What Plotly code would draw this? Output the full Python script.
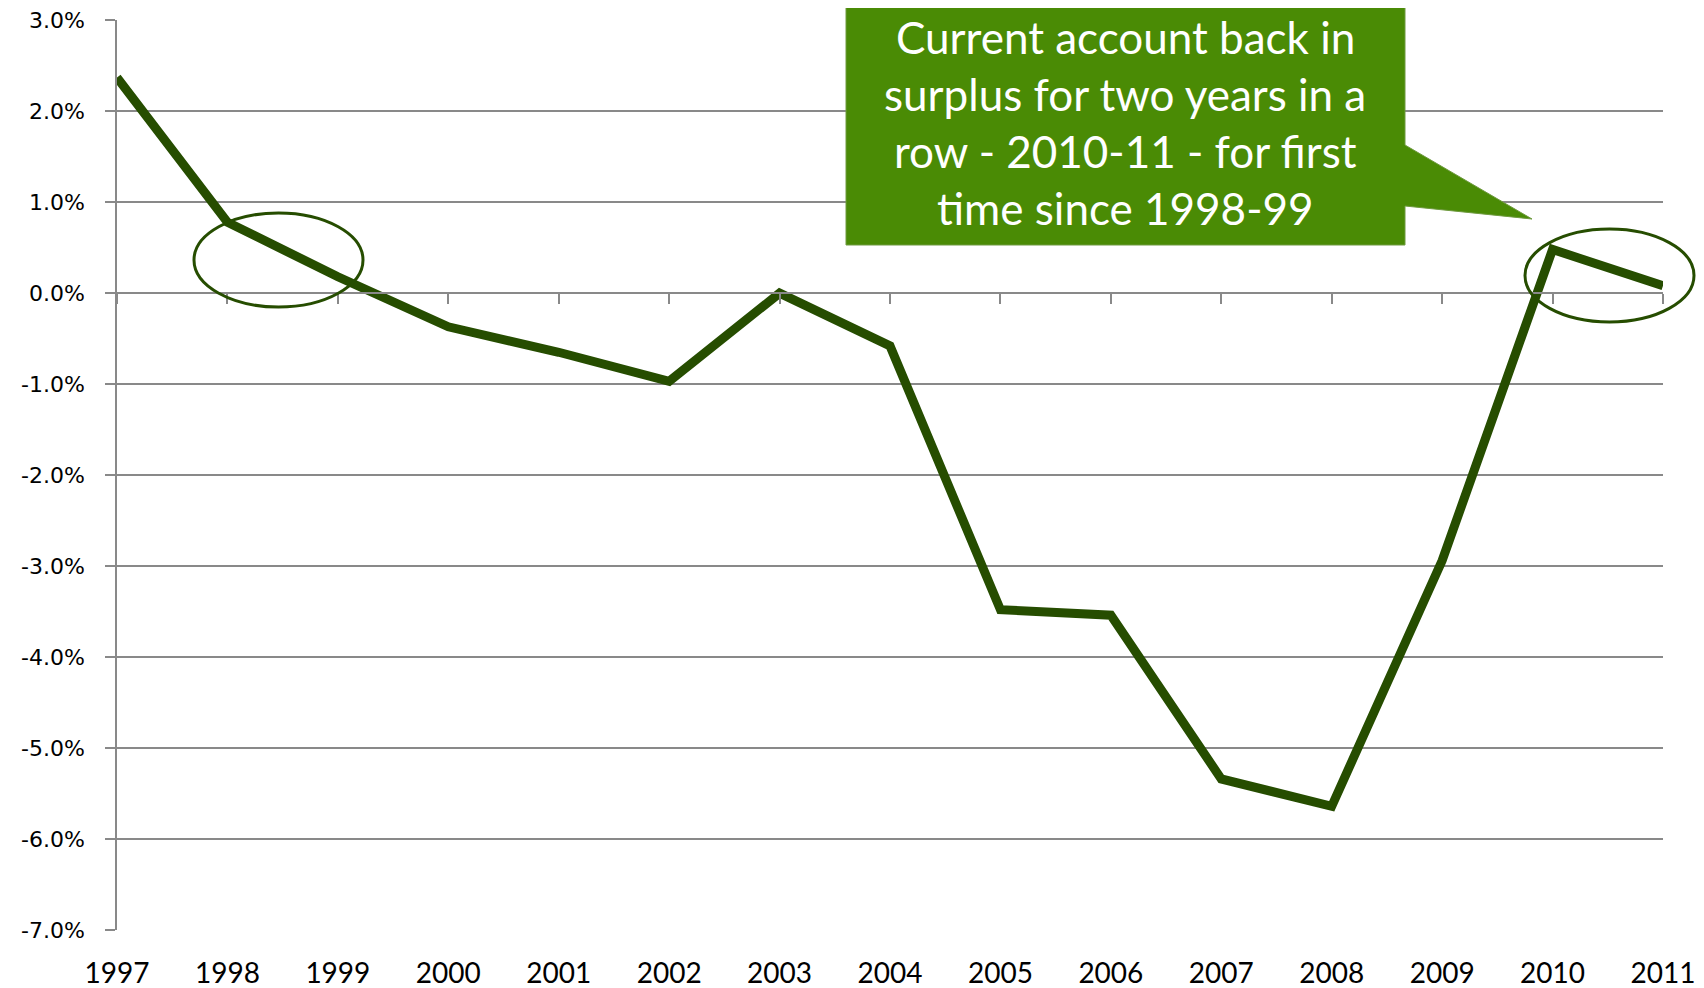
import plotly.graph_objects as go

# ---- data ----
years = [1997, 1998, 1999, 2000, 2001, 2002, 2003, 2004, 2005, 2006, 2007, 2008, 2009, 2010, 2011]
current_account_pct = [2.37, 0.78, 0.18, -0.37, -0.65, -0.97, 0.0, -0.58, -3.48, -3.54, -5.34, -5.64, -2.94, 0.48, 0.08]
y_tick_values = [3, 2, 1, 0, -1, -2, -3, -4, -5, -6, -7]
y_tick_labels = ["3.0%", "2.0%", "1.0%", "0.0%", "-1.0%", "-2.0%", "-3.0%", "-4.0%", "-5.0%", "-6.0%", "-7.0%"]
x_tick_labels = [str(y) for y in years]
callout_lines = ["Current account back in", "surplus for two years in a", "row - 2010-11 - for first", "time since 1998-99"]

Y_MIN, Y_MAX = -7, 3
GRID = "#898989"
LINE_GREEN = "#264d00"
BOX_GREEN = "#4a8b05"

W, H = 1704, 988
PAGE_OFF = 8  # default body margin of the html page
# plot area wanted in page pixels
PL, PR, PT, PB = 117, 1663, 20, 930
PW, PH = PR - PL, PB - PT
ML, MR, MT, MB = PL - PAGE_OFF, W - (PR - PAGE_OFF), PT - PAGE_OFF, H - (PB - PAGE_OFF)


def px_x(px):
    return (px - PL) / PW


def px_y(py):
    return (PB - py) / PH


fig = go.Figure()
fig.add_trace(go.Scatter(
    x=years, y=current_account_pct, mode="lines",
    line=dict(color=LINE_GREEN, width=9),
    showlegend=False, hoverinfo="skip",
))
# ghost trace so that the bottom label axis is drawn
fig.add_trace(go.Scatter(
    x=years, y=current_account_pct, mode="lines", xaxis="x2", yaxis="y",
    line=dict(color="rgba(0,0,0,0)", width=0), opacity=0,
    showlegend=False, hoverinfo="skip",
))

zero_pos = (0 - Y_MIN) / (Y_MAX - Y_MIN)

fig.update_layout(
    width=W, height=H,
    margin=dict(l=ML, r=MR, t=MT, b=MB, pad=0, autoexpand=False),
    paper_bgcolor="white", plot_bgcolor="white",
    xaxis=dict(
        range=[years[0], years[-1]], tickvals=years, showticklabels=False,
        anchor="free", position=zero_pos, automargin=False,
        showline=True, linecolor=GRID, linewidth=1.5,
        ticks="outside", ticklen=10, tickwidth=1.5, tickcolor=GRID,
        showgrid=False, zeroline=False,
    ),
    xaxis2=dict(
        range=[years[0], years[-1]], overlaying="x", anchor="y", side="bottom",
        tickvals=years, ticktext=x_tick_labels, automargin=False,
        tickfont=dict(family="Lato", size=28, color="#000000"),
        ticklabelstandoff=24, ticklabeloverflow="allow",
        showline=False, ticks="", showgrid=False, zeroline=False,
    ),
    yaxis=dict(
        range=[Y_MIN, Y_MAX + 0.002], tickvals=y_tick_values, ticktext=y_tick_labels,
        tickfont=dict(family="DejaVu Sans", size=22, color="#000000"),
        automargin=False, ticklabeloverflow="allow",
        showline=True, linecolor=GRID, linewidth=1.5,
        ticks="outside", ticklen=10, tickwidth=1.5, tickcolor=GRID,
        ticklabelstandoff=16,
        showgrid=True, gridcolor=GRID, gridwidth=1.5, zeroline=False,
    ),
)

# callout box with pointer
box_l, box_r, box_t, box_b = 846, 1405, 3, 245
tri_t, tri_b, tip_x, tip_y = 145, 206, 1532, 219
path = (
    f"M {px_x(box_l)},{px_y(box_t)} L {px_x(box_r)},{px_y(box_t)} "
    f"L {px_x(box_r)},{px_y(tri_t)} L {px_x(tip_x)},{px_y(tip_y)} "
    f"L {px_x(box_r)},{px_y(tri_b)} L {px_x(box_r)},{px_y(box_b)} "
    f"L {px_x(box_l)},{px_y(box_b)} Z"
)
fig.add_shape(type="path", path=path, xref="paper", yref="paper",
              fillcolor=BOX_GREEN, line=dict(color="#6f9a40", width=1), layer="above")

line_centres = [37, 94, 151, 208]
for txt, cy in zip(callout_lines, line_centres):
    fig.add_annotation(
        text=txt, xref="paper", yref="paper", x=px_x(1125), y=px_y(cy),
        xanchor="center", yanchor="middle", showarrow=False,
        font=dict(family="Lato", size=44, color="white"),
    )

# ellipses
for (x0, x1, y0, y1) in [(194, 363, 307, 213), (1525, 1694, 322, 229)]:
    fig.add_shape(type="circle", xref="paper", yref="paper",
                  x0=px_x(x0), x1=px_x(x1), y0=px_y(y0), y1=px_y(y1),
                  line=dict(color=LINE_GREEN, width=3), fillcolor="rgba(0,0,0,0)", layer="above")

fig.write_html("out.html")
